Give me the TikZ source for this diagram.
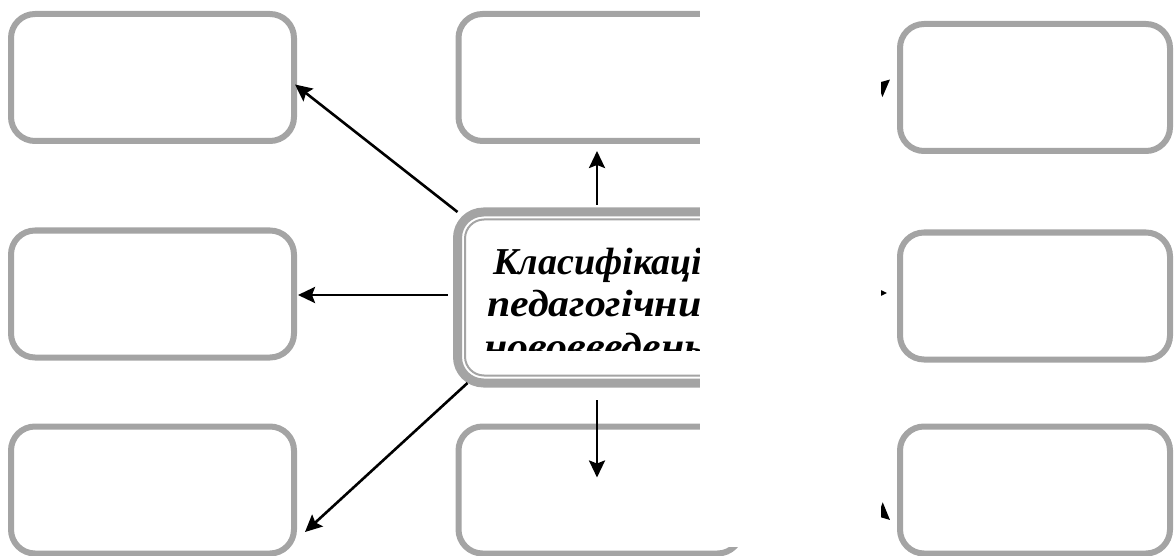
\documentclass[tikz,border=0pt]{standalone}
\usepackage{fontspec}
\setmainfont{Liberation Serif}
\usetikzlibrary{arrows.meta}
\definecolor{boxgray}{HTML}{A4A4A4}
\begin{document}
\begin{tikzpicture}[x=1pt,y=-1pt,
  pbox/.style={draw=boxgray, line width=6pt, rounded corners=24pt, fill=white,
    minimum width=283pt, minimum height=127pt, inner sep=0pt, outer sep=0pt},
  rbox/.style={pbox, minimum width=270pt},
  cbox/.style={draw=boxgray, line width=9pt, rounded corners=26pt, fill=white,
    minimum width=281pt, minimum height=171pt, inner sep=0pt, outer sep=0pt},
  innerline/.style={draw=boxgray, line width=2pt, rounded corners=19pt},
  conn/.style={line width=2.6pt, -{Stealth[length=17pt,width=16pt,inset=3pt]}},
  ctext/.style={font=\fontsize{38}{44}\selectfont\bfseries\itshape, anchor=base west, inner sep=0pt},
  maskfill/.style={fill=white, draw=none}]
\useasboundingbox (0,0) rectangle (1175,556);

% boxes
\node[pbox] (LT) at (152.5,77.5) {};
\node[pbox] (LM) at (152.5,294) {};
\node[pbox] (LB) at (152.5,490) {};
\node[pbox] (MT) at (600,77.5) {};
\node[pbox] (MB) at (600,490) {};
\node[rbox] (RT) at (1035,87.5) {};
\node[rbox] (RM) at (1035,296) {};
\node[rbox] (RB) at (1035,490) {};

% centre box with double border
\node[cbox] (C) at (598,297.5) {};
\draw[innerline] ([shift={(7.5,7.5)}]C.north west) rectangle ([shift={(-7.5,-7.5)}]C.south east);

\begin{scope}
  \clip (C.north west) rectangle ([shift={(0,52.5)}]C.east);
  \node[ctext] (T1) at (493,274) {Класифікація};
  \node[ctext] (T2) at (487,316) {\scalebox{1.1}[1]{педагогічних}};
  \node[ctext] (T3) at (484,359) {\scalebox{1.1}[1]{нововведень}};
\end{scope}

% connectors
\draw[conn] (C.north west) -- ([shift={(1,7)}]LT.east);
\draw[conn, shorten <=10pt] ([shift={(0,-2.5)}]C.west) -- ([shift={(4,1)}]LM.east);
\draw[conn] ([shift={(10,0)}]C.south west) -- ([shift={(11,42)}]LB.east);
\draw[conn] ([shift={(-1,-7)}]C.north) -- ([shift={(-3,10)}]MT.south);
\draw[conn] ([shift={(-1,17)}]C.south) -- ([shift={(-3,51)}]MB.north);
\draw[conn] (C.north east) -- ([shift={(-10,-8)}]RT.west);
\draw[conn, shorten <=10pt] ([shift={(0,-4.5)}]C.east) -- ([shift={(-13,-3)}]RM.west);
\draw[conn] (C.south east) -- ([shift={(-10,30)}]RB.west);

% blank strip of the reference
\fill[maskfill] (700,0) rectangle (881,547);
\fill[maskfill] (750,546) rectangle (881,556);
\end{tikzpicture}
\end{document}
